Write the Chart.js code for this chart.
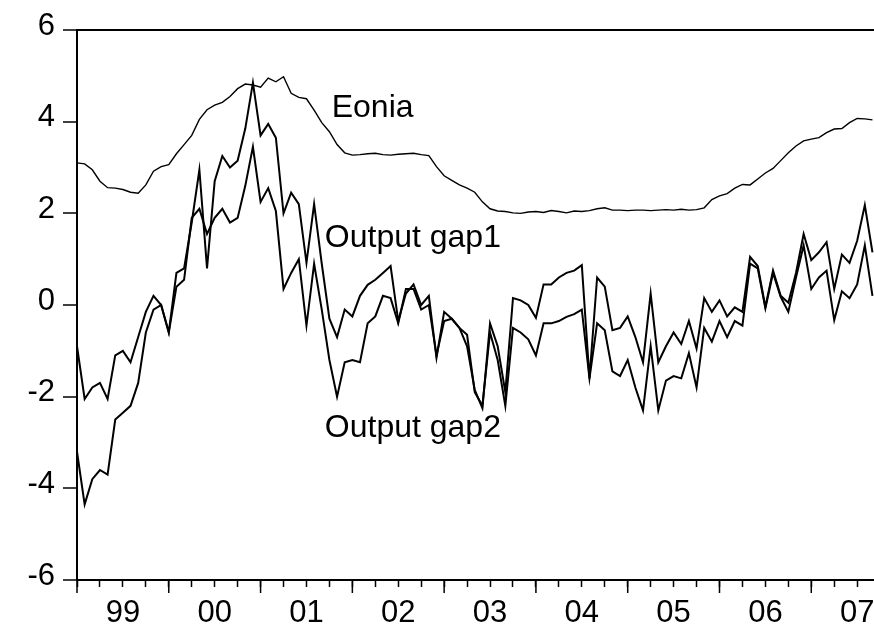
<!DOCTYPE html>
<html>
<head>
<meta charset="utf-8">
<script src="https://cdn.jsdelivr.net/npm/chart.js@4.4.1/dist/chart.umd.min.js"></script>
<style>
  html, body { margin: 0; padding: 0; background: #fff; }
  #wrap { width: 874px; height: 626px; position: relative; }
</style>
</head>
<body>
<div id="wrap"><canvas id="chart"></canvas></div>
<script>
// Monthly series, Jan 1999 .. Sep 2007 (index 0 = Jan 1999)
const yearLabels = ['99', '00', '01', '02', '03', '04', '05', '06', '07'];
const yTickValues = [-6, -4, -2, 0, 2, 4, 6];

const eonia = [
  3.10, 3.08, 2.95, 2.70, 2.56, 2.55, 2.52, 2.46, 2.44, 2.62, 2.92, 3.02,
  3.06, 3.30, 3.50, 3.70, 4.05, 4.26, 4.36, 4.42, 4.55, 4.72, 4.82, 4.80,
  4.75, 4.95, 4.87, 4.98, 4.62, 4.53, 4.50, 4.25, 3.98, 3.78, 3.50, 3.32,
  3.27, 3.28, 3.30, 3.31, 3.28, 3.27, 3.29, 3.30, 3.31, 3.28, 3.26, 3.02,
  2.82, 2.72, 2.62, 2.55, 2.46, 2.25, 2.10, 2.05, 2.04, 2.01, 2.00, 2.03,
  2.04, 2.02, 2.06, 2.04, 2.01, 2.05, 2.04, 2.06, 2.10, 2.12, 2.07, 2.07,
  2.06, 2.07, 2.07, 2.06, 2.07, 2.08, 2.07, 2.09, 2.07, 2.08, 2.12, 2.30,
  2.38, 2.43, 2.55, 2.63, 2.62, 2.75, 2.88, 2.98, 3.15, 3.32, 3.47, 3.58,
  3.62, 3.65, 3.76, 3.84, 3.85, 3.98, 4.07, 4.06, 4.04
];

const outputGap1 = [
  -0.90, -2.05, -1.80, -1.70, -2.05, -1.10, -1.00, -1.25, -0.70, -0.15, 0.20, 0.00,
  -0.60, 0.70, 0.80, 1.80, 2.95, 0.80, 2.70, 3.25, 3.00, 3.15, 3.85, 4.85,
  3.70, 3.95, 3.65, 2.00, 2.45, 2.20, 0.92, 2.20, 0.90, -0.30, -0.70, -0.10,
  -0.25, 0.20, 0.44, 0.55, 0.70, 0.85, -0.35, 0.25, 0.45, 0.00, 0.20, -1.15,
  -0.15, -0.30, -0.50, -0.90, -1.85, -2.25, -0.40, -0.90, -1.90, 0.15, 0.10, 0.00,
  -0.28, 0.45, 0.45, 0.60, 0.70, 0.75, 0.87, -1.60, 0.60, 0.40, -0.55, -0.50,
  -0.25, -0.70, -1.25, 0.25, -1.25, -0.90, -0.60, -0.85, -0.35, -0.95, 0.15, -0.15,
  0.10, -0.25, -0.05, -0.15, 1.05, 0.85, -0.04, 0.75, 0.20, 0.05, 0.70, 1.55,
  0.98, 1.15, 1.37, 0.35, 1.10, 0.92, 1.40, 2.18, 1.15
];

const outputGap2 = [
  -3.20, -4.35, -3.80, -3.60, -3.70, -2.50, -2.35, -2.20, -1.70, -0.60, -0.10, 0.00,
  -0.60, 0.40, 0.55, 1.90, 2.10, 1.55, 1.90, 2.10, 1.80, 1.90, 2.60, 3.45,
  2.25, 2.55, 2.05, 0.35, 0.70, 1.00, -0.45, 0.90, -0.10, -1.20, -2.00, -1.25,
  -1.20, -1.25, -0.40, -0.25, 0.20, 0.15, -0.40, 0.35, 0.35, -0.10, 0.00, -1.10,
  -0.35, -0.30, -0.50, -0.65, -1.90, -2.20, -0.60, -1.20, -2.20, -0.50, -0.60, -0.75,
  -1.10, -0.40, -0.40, -0.35, -0.26, -0.20, -0.10, -1.60, -0.40, -0.55, -1.45, -1.55,
  -1.20, -1.80, -2.30, -0.90, -2.30, -1.65, -1.55, -1.60, -1.05, -1.80, -0.50, -0.80,
  -0.35, -0.70, -0.35, -0.45, 0.90, 0.80, -0.07, 0.70, 0.18, -0.15, 0.60, 1.30,
  0.35, 0.60, 0.75, -0.33, 0.30, 0.15, 0.45, 1.30, 0.20
];

const seriesNames = ['Eonia', 'Output gap1', 'Output gap2'];

const FONT = '"Liberation Sans", Arial, sans-serif';
const lastMonth = eonia.length - 1;

function toPoints(values) {
  return values.map((v, i) => ({ x: i, y: v }));
}

// text tags placed next to each line (month index, value)
const tagAnchors = [[33.3, 4.10], [32.4, 1.27], [32.4, -2.88]];

const seriesTags = {
  id: 'seriesTags',
  afterDatasetsDraw(chart) {
    const { ctx, scales: { x, y } } = chart;
    ctx.save();
    ctx.fillStyle = '#000';
    ctx.font = '32px ' + FONT;
    ctx.textAlign = 'left';
    ctx.textBaseline = 'alphabetic';
    seriesNames.forEach((name, i) => {
      ctx.fillText(name, x.getPixelForValue(tagAnchors[i][0]), y.getPixelForValue(tagAnchors[i][1]));
    });
    ctx.restore();
  }
};

// longer tick marks at the start of every year
const yearTickMarks = {
  id: 'yearTickMarks',
  afterDraw(chart) {
    const { ctx, chartArea, scales: { x } } = chart;
    ctx.save();
    ctx.strokeStyle = '#000';
    ctx.lineWidth = 1.5;
    yearLabels.forEach((_, k) => {
      const px = x.getPixelForValue(12 * k);
      ctx.beginPath();
      ctx.moveTo(px, chartArea.bottom);
      ctx.lineTo(px, chartArea.bottom + 13);
      ctx.stroke();
    });
    ctx.restore();
  }
};

const ctx = document.getElementById('chart').getContext('2d');
new Chart(ctx, {
  type: 'line',
  data: {
    datasets: [
      { label: seriesNames[0], data: toPoints(eonia), borderColor: '#000', borderWidth: 1.4 },
      { label: seriesNames[1], data: toPoints(outputGap1), borderColor: '#000', borderWidth: 2 },
      { label: seriesNames[2], data: toPoints(outputGap2), borderColor: '#000', borderWidth: 2 }
    ]
  },
  options: {
    responsive: true,
    maintainAspectRatio: false,
    animation: false,
    layout: { padding: { top: 30, left: 0, right: 0, bottom: 0 } },
    elements: {
      point: { radius: 0 },
      line: { tension: 0, fill: false }
    },
    plugins: {
      legend: { display: false },
      tooltip: { enabled: false }
    },
    scales: {
      x: {
        type: 'linear',
        min: 0,
        max: lastMonth + 0.2,
        afterBuildTicks(scale) {
          const t = [];
          for (let m = 0; m <= lastMonth; m += 3) t.push({ value: m });
          scale.ticks = t;
        },
        afterFit(scale) {
          scale.height = 46;
          scale.paddingLeft = 0;
          scale.paddingRight = 0;
        },
        ticks: {
          autoSkip: false,
          maxRotation: 0,
          padding: 8,
          color: '#000',
          font: { family: FONT, size: 31 },
          callback: (value) => (value % 12 === 6 ? yearLabels[(value - 6) / 12] : '')
        },
        grid: {
          drawOnChartArea: false,
          drawTicks: true,
          tickLength: 7,
          tickColor: '#000',
          tickWidth: 1.5
        },
        border: { display: true, color: '#000', width: 2 }
      },
      y: {
        min: -6,
        max: 6,
        afterBuildTicks(scale) {
          scale.ticks = yTickValues.map(v => ({ value: v }));
        },
        afterFit(scale) {
          scale.width = 77;
        },
        ticks: {
          padding: 8,
          labelOffset: -4,
          color: '#000',
          font: { family: FONT, size: 31 },
          callback: (value) => String(value)
        },
        grid: {
          drawOnChartArea: true,
          color: (c) => (c.tick && c.tick.value === 6 ? '#000' : 'rgba(0,0,0,0)'),
          lineWidth: 2,
          drawTicks: true,
          tickLength: 14,
          tickColor: '#000',
          tickWidth: 1.5
        },
        border: { display: true, color: '#000', width: 2 }
      }
    }
  },
  plugins: [seriesTags, yearTickMarks]
});
</script>
</body>
</html>
